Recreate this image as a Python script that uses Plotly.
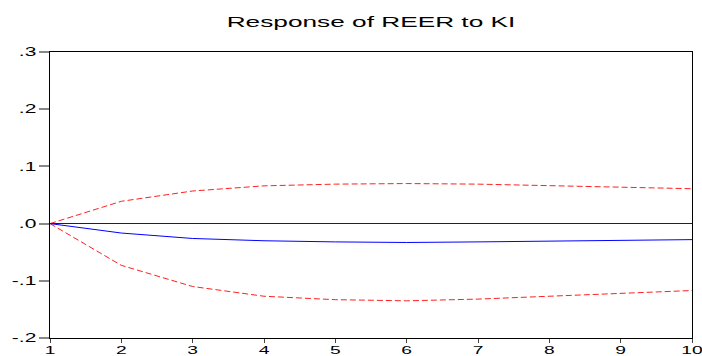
import plotly.graph_objects as go

periods = [1, 2, 3, 4, 5, 6, 7, 8, 9, 10]
response = [0.0, -0.0165, -0.026, -0.030, -0.032, -0.033, -0.032, -0.031, -0.030, -0.028]
upper = [0.0, 0.039, 0.057, 0.066, 0.069, 0.070, 0.069, 0.066, 0.064, 0.061]
lower = [0.0, -0.073, -0.110, -0.127, -0.133, -0.135, -0.132, -0.127, -0.122, -0.117]
ytick_vals = [-0.2, -0.1, 0.0, 0.1, 0.2, 0.3]
ytick_text = ["-.2", "-.1", ".0", ".1", ".2", ".3"]
title_text = "Response of REER to KI"

fig = go.Figure()
fig.add_trace(go.Scatter(x=periods, y=upper, mode="lines",
                         line=dict(color="#ff2020", width=1, dash="6px,3px")))
fig.add_trace(go.Scatter(x=periods, y=lower, mode="lines",
                         line=dict(color="#ff2020", width=1, dash="6px,3px")))
fig.add_trace(go.Scatter(x=periods, y=response, mode="lines",
                         line=dict(color="#0000ff", width=1)))

fig.update_layout(
    width=702, height=356,
    margin=dict(l=50, r=10, t=52, b=18),
    paper_bgcolor="white", plot_bgcolor="white",
    showlegend=False,
    font=dict(family="Liberation Sans, Arial, sans-serif", size=11, color="black"),
    title=dict(text=title_text, x=0.5, xanchor="center",
               xref="paper", y=0.94, yanchor="middle",
               font=dict(size=15, color="black")),
)
fig.update_xaxes(range=[1, 10], tickvals=periods,
                 ticktext=[str(p) for p in periods],
                 showgrid=False, zeroline=False, showline=True, linecolor="black",
                 linewidth=1, mirror=True, ticks="outside", ticklen=4,
                 tickcolor="#444444", tickfont=dict(size=11), automargin=False,
                 ticklabelstandoff=-2)
fig.update_yaxes(range=[-0.2, 0.3], tickvals=ytick_vals, ticktext=ytick_text,
                 showgrid=False, zeroline=True, zerolinecolor="#222222", zerolinewidth=1,
                 showline=True, linecolor="black", linewidth=1, mirror=True,
                 ticks="outside", ticklen=10, tickcolor="#888888", tickwidth=1.5,
                 tickfont=dict(size=12), automargin=False)

# Widen the glyphs horizontally (the reference text is stretched), keeping each
# text's anchor point fixed.
stretch_js = """
var gd = document.getElementById('{plot_id}');
gd.querySelectorAll('svg text').forEach(function(t){
  var b = t.getBBox();
  if (!b.width) return;
  var a = t.getAttribute('text-anchor') || 'start';
  var cx = a === 'middle' ? b.x + b.width / 2 : (a === 'end' ? b.x + b.width : b.x);
  var old = t.getAttribute('transform') || '';
  t.setAttribute('transform', old + ' translate(' + cx + ',0) scale(1.75,1) translate(' + (-cx) + ',0)');
});
"""

fig.write_html("out.html", post_script=stretch_js)
